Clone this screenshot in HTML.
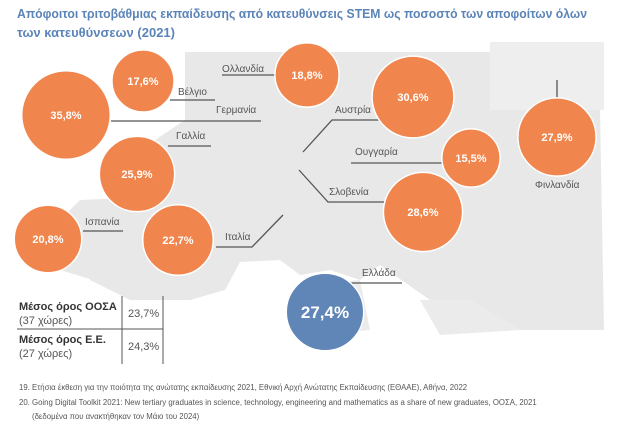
<!DOCTYPE html>
<html><head><meta charset="utf-8"><style>
body{margin:0;background:#fff;}
svg text{font-family:"Liberation Sans","DejaVu Sans",sans-serif;}
</style></head><body>
<svg id="chart" width="624" height="430" viewBox="0 0 624 430" xmlns="http://www.w3.org/2000/svg">
<text x="17" y="18" font-size="13" font-weight="bold" fill="#5b84b8" textLength="570" lengthAdjust="spacingAndGlyphs">Απόφοιτοι τριτοβάθμιας εκπαίδευσης από κατευθύνσεις STEM ως ποσοστό των αποφοίτων όλων</text>
<text x="17" y="37" font-size="13" font-weight="bold" fill="#5b84b8" textLength="158" lengthAdjust="spacingAndGlyphs">των κατευθύνσεων (2021)</text>
<g id="map" fill="#e8e8e8">
<path d="M185,52 L490,52 L490,110 L600,110 L604,330 L520,330 L470,300 L430,300 L380,265 L360,280 L330,270 L300,275 L280,260 L240,262 L225,290 L190,300 L130,300 L110,290 L90,280 L100,230 L150,200 L140,150 L185,120 Z"/>
<path d="M490,42 L604,42 L604,110 L490,110 Z" fill="#eeeeee"/>
<path d="M80,200 L200,195 L210,260 L180,285 L110,285 L60,270 L50,230 Z"/>
<path d="M420,300 L470,300 L520,330 L440,335 Z" fill="#ebebeb"/>
<path d="M300,285 L360,280 L370,330 L320,335 Z" fill="#ebebeb"/>
</g>
<g id="leaders" stroke="#555" stroke-width="1.3" fill="none"></g>
<g id="labels"></g>
<g id="bubbles"></g>
<g font-size="11" fill="#444">
<line x1="122" y1="296" x2="122" y2="364" stroke="#555" stroke-width="1"/>
<line x1="163" y1="296" x2="163" y2="364" stroke="#555" stroke-width="1"/>
<line x1="17" y1="329" x2="163" y2="329" stroke="#555" stroke-width="1"/>
<text x="19" y="310" font-weight="bold" fill="#333">Μέσος όρος ΟΟΣΑ</text>
<text x="19" y="324" fill="#555">(37 χώρες)</text>
<text x="128" y="317" fill="#555">23,7%</text>
<text x="19" y="343" font-weight="bold" fill="#333">Μέσος όρος Ε.Ε.</text>
<text x="19" y="357" fill="#555">(27 χώρες)</text>
<text x="128" y="350" fill="#555">24,3%</text>
</g>
<g font-size="7.8" fill="#555">
<text x="19" y="390">19. Ετήσια έκθεση για την ποιότητα της ανώτατης εκπαίδευσης 2021, Εθνική Αρχή Ανώτατης Εκπαίδευσης (ΕΘΑΑΕ), Αθήνα, 2022</text>
<text x="19" y="405">20. Going Digital Toolkit 2021: New tertiary graduates in science, technology, engineering and mathematics as a share of new graduates, ΟΟΣΑ, 2021</text>
<text x="32" y="419">(δεδομένα που ανακτήθηκαν τον Μάιο του 2024)</text>
</g>
</svg>
<script>
const countries=["Βέλγιο","Ολλανδία","Γερμανία","Αυστρία","Φινλανδία","Γαλλία","Ουγγαρία","Σλοβενία","Ισπανία","Ιταλία","Ελλάδα"];
const values=[17.6,18.8,35.8,30.6,27.9,25.9,15.5,28.6,20.8,22.7,27.4];
const valueLabels=["17,6%","18,8%","35,8%","30,6%","27,9%","25,9%","15,5%","28,6%","20,8%","22,7%","27,4%"];
// layout (not data): bubble centers, label position, leader path
const cx=[143,307,66,413,557,137,471,423,48,178,325];
const cy=[81,75,115,97,137,174,158,212,239,240,312];
const lx=[178,222,216,335,535,176,355,329,85,225,362];
const ly=[95,72,113,113,188,139,155,195,225,240,276];
const leads=[
"M170,100 L215,100","M276,75 L222,75","M111,121 L261,121","M380,120 L332,120 L303,152",
"M557,98 L557,80","M168,146 L211,146","M442,163 L351,163","M386,202 L328,202 L299,170",
"M83,231 L123,231","M216,247 L252,247 L283,215","M343,283 L402,283"];
const NS="http://www.w3.org/2000/svg";
const r=v=>7.4*Math.sqrt(v);
const B=document.getElementById('bubbles'),L=document.getElementById('labels'),G=document.getElementById('leaders');
for(let i=0;i<countries.length;i++){
 const p=document.createElementNS(NS,'path');p.setAttribute('d',leads[i]);
 
 
 G.appendChild(p);
 const t=document.createElementNS(NS,'text');
 
 
 t.setAttribute('x',lx[i]);t.setAttribute('y',ly[i]);t.setAttribute('font-size','10');t.setAttribute('fill','#555');
 t.textContent=countries[i];L.appendChild(t);
 const c=document.createElementNS(NS,'circle');
 
 
 const gr=countries[i]==="Ελλάδα";
 c.setAttribute('cx',cx[i]);c.setAttribute('cy',cy[i]);c.setAttribute('r',r(values[i]));
 c.setAttribute('fill',gr?'#5f86b6':'#f0854d');c.setAttribute('stroke','#fff');c.setAttribute('stroke-width','1.5');
 B.appendChild(c);
 const vt=document.createElementNS(NS,'text');
 
 
 vt.setAttribute('x',cx[i]);vt.setAttribute('y',cy[i]+(gr?6:4));vt.setAttribute('text-anchor','middle');
 vt.setAttribute('font-size',gr?'17':'11');vt.setAttribute('font-weight','bold');vt.setAttribute('fill','#fff');
 vt.textContent=valueLabels[i];B.appendChild(vt);
}
</script>
</body></html>
